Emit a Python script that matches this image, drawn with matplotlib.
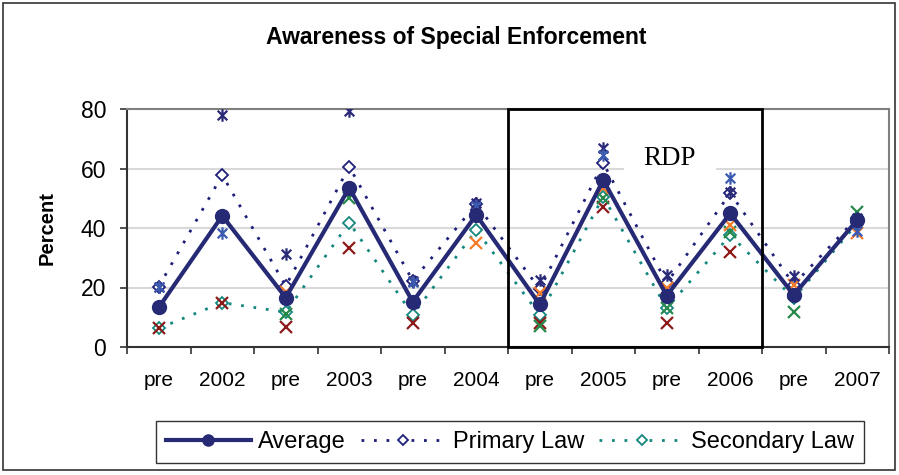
import numpy as np
import matplotlib
matplotlib.use("Agg")
import matplotlib.pyplot as plt
from matplotlib.path import Path
from matplotlib.patches import Rectangle

plt.rcParams['font.family'] = ['Liberation Sans', 'DejaVu Sans']

# data
periods = ['pre', '2002', 'pre', '2003', 'pre', '2004',
           'pre', '2005', 'pre', '2006', 'pre', '2007']
average = [13.3, 44.1, 16.6, 53.5, 15.2, 44.4, 14.3, 56.1, 17.3, 44.9, 17.5, 42.7]
primary = [20.3, 57.8, 20.5, 60.6, 22.3, 48.0, 19.5, 61.8, 21.5, 51.7, 21.0, 43.5]
secondary = [6.3, 14.9, 11.7, 41.8, 10.8, 39.3, 10.8, 50.5, 13.0, 37.6, 16.4, 41.6]

nan = np.nan
prim_state_a = [20.3, 78.0, 31.2, 79.4, 22.3, 48.5, 22.5, 67.0, 24.2, 52.2, 24.0, 43.5]
prim_state_b = [20.3, 38.4, nan, nan, 22.0, 47.5, nan, 64.5, nan, 56.8, nan, 39.0]
sec_state_red = [6.4, 14.9, 6.8, 33.2, 8.0, nan, 8.0, 47.2, 8.0, 32.0, nan, nan]
sec_state_green = [nan, nan, 11.2, 50.0, nan, nan, 7.2, 50.0, 13.0, 38.5, 11.7, 45.5]
sec_state_orange = [nan, nan, 18.5, nan, nan, 35.1, 18.2, 53.3, 19.8, 41.0, 21.0, 38.3]

# excel style star marker: an x plus a vertical bar
star = Path([(-1, -1), (1, 1), (-1, 1), (1, -1), (0, -1.3), (0, 1.3)],
            [Path.MOVETO, Path.LINETO, Path.MOVETO, Path.LINETO, Path.MOVETO, Path.LINETO])

navy = '#262A75'
teal = '#14877F'

fig = plt.figure(figsize=(8.99, 4.75), dpi=100)
ax = fig.add_axes([127/899, 1 - 347/475, 762/899, 238/475])
x = np.arange(len(periods))

ax.plot(x, primary, ls=(0, (1, 3.5)), lw=2, color='#1F1F7A', marker='D', ms=6,
        mfc='white', mec='#1F1F7A', mew=1.3, label='Primary Law', zorder=3)
ax.plot(x, secondary, ls=(0, (1, 3.5)), lw=2, color=teal, marker='D', ms=6,
        mfc='white', mec=teal, mew=1.3, label='Secondary Law', zorder=3)

ax.plot(x, sec_state_red, ls='none', marker='x', ms=9, mew=1.6, color='#8C1A1A', zorder=4)
ax.plot(x, sec_state_green, ls='none', marker='x', ms=9, mew=1.6, color='#278A4A', zorder=4)
ax.plot(x, sec_state_orange, ls='none', marker='x', ms=9, mew=1.6, color='#F57C2B', zorder=4)
ax.plot(x, prim_state_a, ls='none', marker=star, ms=9, mew=1.6, color='#2A2A78', zorder=4)
ax.plot(x, prim_state_b, ls='none', marker=star, ms=9, mew=1.6, color='#3B5BB0', zorder=4)

ax.plot(x, average, color=navy, lw=3, marker='o', ms=10, label='Average', zorder=5)

ax.set_xlim(-0.5, len(periods) - 0.5)
ax.set_ylim(0, 80)
ax.set_yticks([0, 20, 40, 60, 80])
ax.yaxis.grid(True, color='#D9D9D9', lw=1.5)
ax.set_axisbelow(True)
ax.tick_params(axis='y', labelsize=16.5, length=5, width=1.2, color='#333333', pad=10)
ax.set_xticks(x)
ax.set_xticklabels(periods)
ax.set_xticks(np.arange(-0.5, len(periods)), minor=True)
ax.tick_params(axis='x', which='major', length=0, labelsize=15, pad=17)
ax.tick_params(axis='x', which='minor', length=5, width=1.2, color='#333333')
for side in ['top', 'right']:
    ax.spines[side].set_color('#808080')
    ax.spines[side].set_linewidth(1.5)
for side in ['left', 'bottom']:
    ax.spines[side].set_color('#333333')
    ax.spines[side].set_linewidth(1.5)

ax.add_patch(Rectangle((5.5, 0), 4, 80, fill=False, ec='black', lw=2, zorder=6, clip_on=False))
ax.text(8.05, 63.5, 'RDP', family='Liberation Serif', fontsize=19.5, ha='center', va='center',
        bbox=dict(fc='white', ec='none', pad=14), zorder=2)

fig.text(0.508, 0.922, 'Awareness of Special Enforcement', ha='center', va='center',
         fontsize=16.5, fontweight='bold')
fig.text(0.052, 0.52, 'Percent', rotation=90, ha='center', va='center',
         fontsize=14.5, fontweight='bold')

handles, labels = ax.get_legend_handles_labels()
order = [2, 0, 1]
leg = fig.legend([handles[i] for i in order], [labels[i] for i in order],
                 loc='center', bbox_to_anchor=(510/899, 1 - 442/475), ncol=3,
                 fontsize=17, frameon=True, fancybox=False, edgecolor='black',
                 handlelength=3.6, handletextpad=0.3, columnspacing=0.65,
                 borderpad=0.42, borderaxespad=0, markerscale=0.8)
leg.get_frame().set_linewidth(1.0)

fig.patches.append(Rectangle((3/899, 5/475), 892/899, 467/475, fill=False, ec='#333333',
                             lw=1.2, transform=fig.transFigure, figure=fig))

fig.savefig('out.png', dpi=100)
